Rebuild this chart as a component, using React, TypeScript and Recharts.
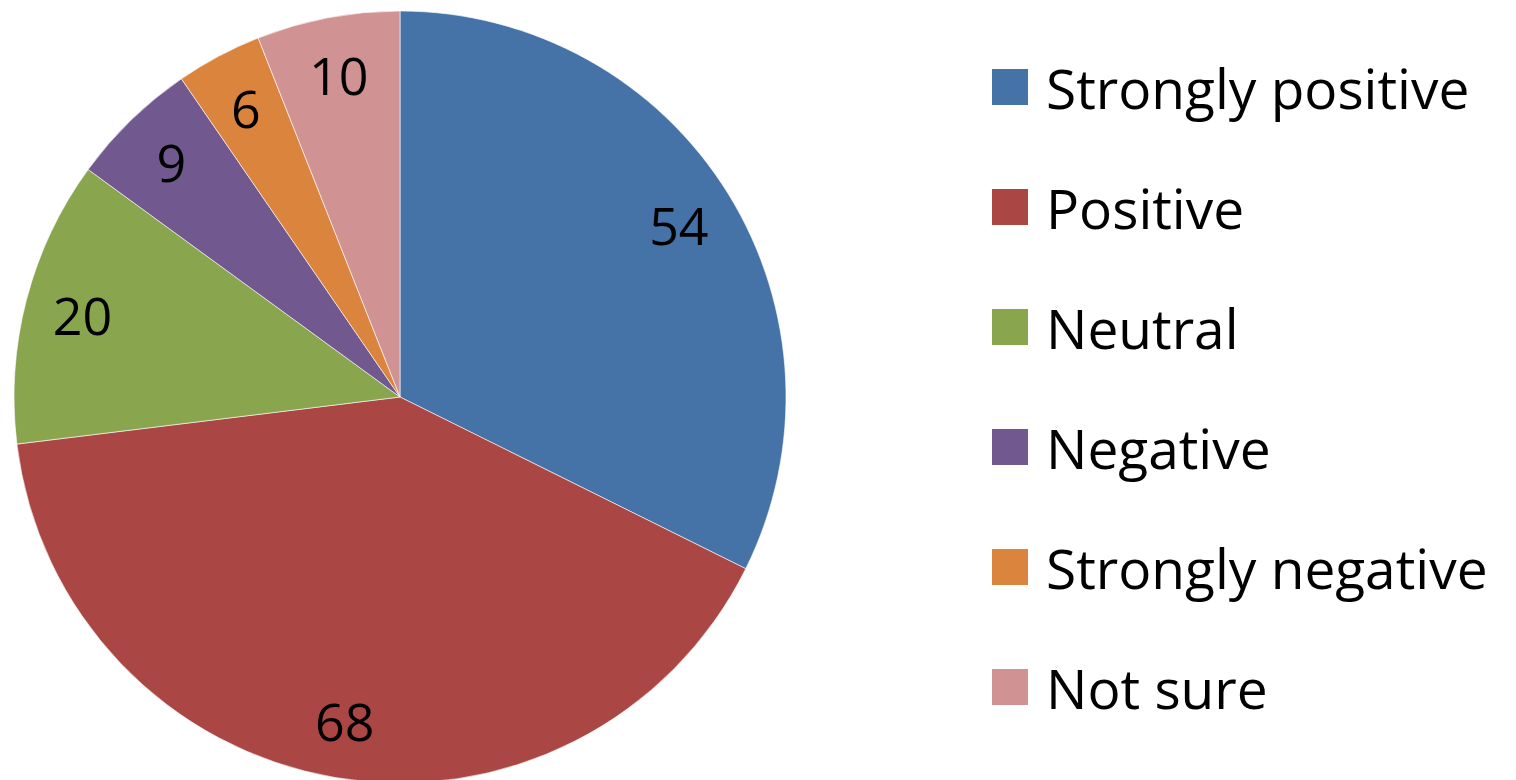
import { Cell, Pie, PieChart } from 'recharts';

// Survey response breakdown, drawn clockwise from 12 o'clock.
const categories = [
  'Strongly positive',
  'Positive',
  'Neutral',
  'Negative',
  'Strongly negative',
  'Not sure',
];
const counts = [54, 68, 20, 9, 6, 10];

const COLORS = ['#4572A7', '#AA4643', '#89A54E', '#71588F', '#DB843D', '#D09292'];
const FONT = '"Open Sans", sans-serif';

const data = categories.map((name, i) => ({ name, value: counts[i] }));

const RADIAN = Math.PI / 180;

function renderLabel(props: any) {
  const { cx, cy, midAngle, outerRadius, value } = props;
  const r = outerRadius * 0.85;
  const x = cx + r * Math.cos(-midAngle * RADIAN);
  const y = cy + r * Math.sin(-midAngle * RADIAN);
  return (
    <text
      x={x}
      y={y}
      fill="#000"
      textAnchor="middle"
      dominantBaseline="central"
      fontFamily={FONT}
      fontSize={52}
    >
      {value}
    </text>
  );
}

// legend sits to the right of the pie, outside the chart's layout box
function LegendList() {
  return (
    <div
      style={{
        position: 'absolute',
        left: 992,
        top: 27,
        fontFamily: FONT,
      }}
    >
      {categories.map((name, i) => (
        <div key={name} style={{ display: 'flex', alignItems: 'center', height: 120 }}>
          <span
            style={{
              width: 36,
              height: 36,
              background: COLORS[i],
              marginRight: 18,
              flex: 'none',
            }}
          />
          <span style={{ fontSize: 55, color: '#000', whiteSpace: 'nowrap' }}>{name}</span>
        </div>
      ))}
    </div>
  );
}

export default function App() {
  return (
    <div
      style={{
        position: 'absolute',
        top: 0,
        left: 0,
        width: 1516,
        height: 780,
        background: '#fff',
        overflow: 'hidden',
      }}
    >
      <PieChart width={1516} height={780} margin={{ top: 0, right: 0, bottom: 0, left: 0 }}>
        <Pie
          data={data}
          dataKey="value"
          nameKey="name"
          cx={400}
          cy={397}
          outerRadius={386}
          startAngle={90}
          endAngle={-270}
          stroke="#ffffff"
          strokeWidth={0.6}
          label={renderLabel}
          labelLine={false}
          isAnimationActive={false}
        >
          {data.map((_, i) => (
            <Cell key={i} fill={COLORS[i]} />
          ))}
        </Pie>
      </PieChart>
      <LegendList />
    </div>
  );
}
